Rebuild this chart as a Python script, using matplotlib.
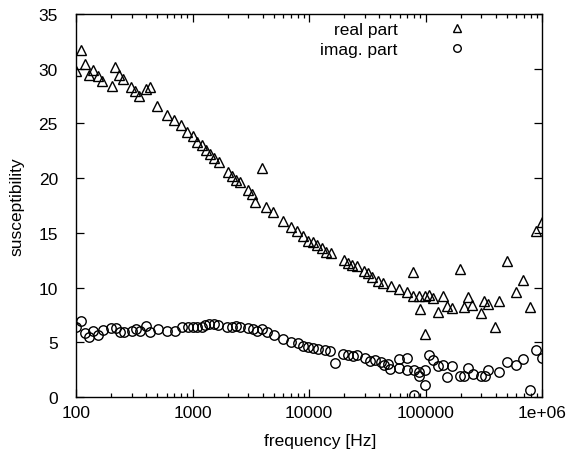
import matplotlib
matplotlib.use("Agg")
import matplotlib.pyplot as plt
from matplotlib.ticker import LogLocator, FixedLocator, NullFormatter

plt.rcParams['font.family'] = ['Liberation Sans', 'DejaVu Sans']

real_freq = [100, 110, 119.5, 130, 140.8, 153.6, 168.2, 202.5, 217.5, 235.5, 254.6, 296.6,
             320.9, 347.4, 399, 434.5, 499, 600.5, 698, 792, 892, 1004, 1087, 1199, 1306,
             1413, 1530, 1700, 2006, 2183, 2362, 2556, 3013, 3241, 3438, 3971, 4272, 4938,
             5946, 6966, 7937, 8936, 9863, 10760, 11790, 12850, 13990, 15360, 19960, 21740,
             23530, 25650, 29630, 32270, 34510, 39330, 42930, 50270, 59590, 68960, 78580,
             78580, 88510, 89740, 99080, 99080, 107900, 116700, 128900, 140600, 152100,
             167900, 197800, 215300, 232900, 252200, 297800, 317800, 341800, 395200, 424800,
             497600, 594500, 691300, 789000, 883000, 994000]
real_val = [29.8, 31.75, 30.44, 29.43, 29.92, 29.31, 28.91, 28.4, 30.14, 29.43, 29.07, 28.31,
            27.94, 27.49, 28.15, 28.31, 26.63, 25.78, 25.35, 24.86, 24.25, 23.89, 23.34, 23.03,
            22.61, 22.21, 21.82, 21.45, 20.54, 20.23, 19.84, 19.68, 18.95, 18.51, 17.85, 20.9,
            17.34, 16.88, 16.06, 15.51, 15.15, 14.74, 14.29, 14.2, 13.92, 13.62, 13.28, 13.16,
            12.52, 12.25, 12.09, 11.95, 11.49, 11.31, 10.94, 10.63, 10.39, 10.12, 9.87, 9.63,
            9.26, 11.45, 9.26, 8.04, 9.26, 5.76, 9.32, 9.02, 7.80, 9.2, 8.35, 8.11, 11.7, 8.2,
            9.17, 8.41, 7.65, 8.8, 8.5, 6.37, 8.8, 12.43, 9.63, 10.69, 8.25, 15.2, 16.02]

imag_freq = [100, 110, 119.5, 130, 140.8, 155.4, 169.4, 199.7, 220.4, 238.6, 258.2, 300.8,
             327.5, 354.2, 399, 431.5, 502.5, 600.5, 707.5, 807.7, 909, 1004, 1099, 1199,
             1280, 1394, 1530, 1665, 1966, 2170, 2362, 2556, 3013, 3287, 3557, 3971, 4334,
             5010, 6015, 6997, 7994, 8936, 9863, 10890, 12020, 13710, 15140, 16710, 19680,
             21740, 23710, 25650, 30240, 33420, 36880, 41270, 44290, 47600, 49540, 59590,
             59590, 68960, 68960, 79620, 79620, 88510, 88510, 99080, 99080, 107900, 116700,
             128900, 140600, 152100, 167900, 197800, 213900, 232900, 254100, 297800, 324300,
             346000, 427500, 497600, 594500, 691300, 789000, 887800, 994000]
imag_val = [6.43, 6.92, 5.82, 5.46, 6.06, 5.67, 6.12, 6.31, 6.28, 5.91, 5.97, 6.06, 6.22,
            6.06, 6.52, 5.91, 6.22, 6.06, 6.06, 6.37, 6.43, 6.43, 6.43, 6.43, 6.61, 6.67,
            6.67, 6.58, 6.43, 6.43, 6.46, 6.37, 6.28, 6.22, 6.06, 6.22, 5.91, 5.67, 5.30,
            5.0, 4.91, 4.69, 4.54, 4.45, 4.39, 4.3, 4.18, 3.08, 3.93, 3.84, 3.78, 3.84, 3.56,
            3.32, 3.38, 3.17, 2.95, 3.02, 2.56, 3.47, 2.62, 3.56, 2.50, 2.47, 0.18, 2.31,
            1.95, 2.47, 1.10, 3.84, 3.38, 2.81, 2.95, 1.86, 2.81, 1.89, 1.89, 2.62, 2.10,
            1.95, 1.95, 2.47, 2.31, 3.23, 2.93, 3.47, 0.67, 4.32, 3.54]

x_ticks = [100, 1000, 10000, 100000, 1000000]
x_tick_labels = ["100", "1000", "10000", "100000", "1e+06"]
y_ticks = [0, 5, 10, 15, 20, 25, 30, 35]

FS = 12.5
fig = plt.figure(figsize=(5.8, 4.56), dpi=100)
ax = fig.add_axes([76/580, 1-398/456, 466/580, 383/456])

ms = 6.8
ax.plot(real_freq, real_val, linestyle='none', marker='^', markersize=ms,
        markerfacecolor='none', markeredgecolor='black', markeredgewidth=1.0, label='real part')
ax.plot(imag_freq, imag_val, linestyle='none', marker='o', markersize=ms,
        markerfacecolor='none', markeredgecolor='black', markeredgewidth=1.0, label='imag. part')

ax.set_xscale('log')
ax.set_xlim(100, 1e6)
ax.set_ylim(0, 35)
ax.xaxis.set_major_locator(FixedLocator(x_ticks))
ax.set_xticklabels(x_tick_labels)
ax.xaxis.set_minor_locator(LogLocator(base=10, subs=range(2, 10)))
ax.xaxis.set_minor_formatter(NullFormatter())
ax.set_yticks(y_ticks)

ax.tick_params(which='both', direction='in', top=True, right=True, labelsize=FS,
               colors='black')
ax.tick_params(axis='x', pad=6)
ax.tick_params(axis='y', pad=13)
ax.tick_params(which='major', length=6, width=0.9)
ax.tick_params(which='minor', length=3, width=0.9)
for s in ax.spines.values():
    s.set_linewidth(1.0)

ax.set_xlabel('frequency [Hz]', fontsize=FS, labelpad=7)
ax.xaxis.set_label_coords(0.525, -0.095)
ax.set_ylabel('susceptibility', fontsize=FS, labelpad=10)

ax.legend(loc='upper right', bbox_to_anchor=(0.862, 1.012), frameon=False, markerfirst=False,
          fontsize=FS, handlelength=1.0, handletextpad=2.9, labelspacing=0.32,
          borderaxespad=0.3, markerscale=0.8)

fig.savefig('out.png', dpi=100)
